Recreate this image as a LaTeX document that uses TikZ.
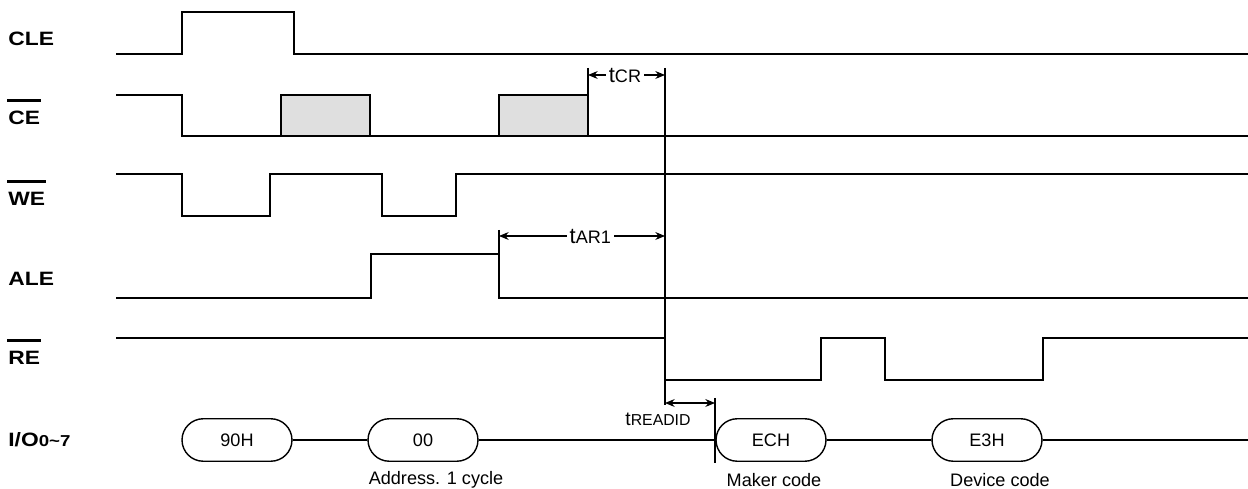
\documentclass[tikz,border=0pt]{standalone}
\usepackage{fontspec}
\setmainfont{Liberation Sans}
\newfontfamily\sigfont[FakeStretch=1.18]{Liberation Sans}
\usetikzlibrary{shapes.misc,positioning,arrows.meta}
\newlength\barwd
\newcommand\barred[1]{\settowidth\barwd{#1}\rlap{\hspace*{-0.5pt}\rule[13pt]{\dimexpr\barwd+1pt\relax}{1.6pt}}#1}
\newcommand\tsub[1]{{\fontsize{12.5}{14}\selectfont t}{\fontsize{10.3}{12}\selectfont #1}}
\tikzset{sig/.style={anchor=base west,inner sep=0pt,font=\sigfont\bfseries\fontsize{11}{13}\selectfont},
wave/.style={line width=1.1pt},
tline/.style={line width=0.6pt},
hold/.style={draw,fill=gray!25,line width=1.1pt},
bus/.style={rounded rectangle,draw,line width=0.8pt,minimum width=2.2cm,minimum height=0.85cm,inner sep=0pt,font=\fontsize{10.3}{12}\selectfont},
note/.style={inner sep=0pt,font=\fontsize{10.3}{12}\selectfont},
tlabel/.style={fill=white,inner sep=1.5pt}}

\begin{document}
\begin{tikzpicture}[>={Stealth[length=5.5pt,width=4.5pt]},x=0.02cm,y=-0.02cm]
        \useasboundingbox (0,0) rectangle (1248,489);

        % signal names
        \node[sig] (cle) at (8,46) {CLE};
        \node[sig] (ce) at (8,125) {\barred{CE}};
        \node[sig] (we) at (8,206) {\barred{WE}};
        \node[sig] (ale) at (8,286) {ALE};
        \node[sig] (re) at (8,365) {\barred{RE}};
        \node[sig] (io) at (8,447) {I/O{\fontsize{9}{10}\selectfont 0\textasciitilde 7}};

        % waveforms
        \draw[wave] (116,54) -- (182,54) -- (182,12) -- (294,12) -- (294,54) -- (1248,54);
        \draw[wave] (116,95) -- (182,95) -- (182,136) -- (1248,136);
        \draw[hold] (281,136) rectangle (370,95);
        \draw[hold] (499,136) rectangle (588,95);
        \draw[wave] (116,174) -- (182,174) -- (182,216) -- (270,216) -- (270,174) -- (382,174)
                -- (382,216) -- (456,216) -- (456,174) -- (1248,174);
        \draw[wave] (116,298) -- (371,298) -- (371,254) -- (499,254) -- (499,298) -- (1248,298);
        \draw[wave] (116,338) -- (665,338) -- (665,380) -- (821,380) -- (821,338) -- (885,338)
                -- (885,380) -- (1043,380) -- (1043,338) -- (1248,338);

        % data bus
        \node[bus] (b90) at (237,440) {90H};
        \node[bus] (b00) at (423,440) {00};
        \node[bus] (bec) at (771,440) {ECH};
        \node[bus] (be3) at (987,440) {E3H};
        \coordinate (bend) at (1248,440);
        \draw[wave] (b90) -- (b00);
        \draw[wave] (b00) -- (bec);
        \draw[wave] (bec) -- (be3);
        \draw[wave] (be3) -- (bend);
        \node[note] (caddr) at (436,480) {Address. 1 cycle};
        \node[note] (cmak) at (774,480) {Maker code};
        \node[note] (cdev) at (1000,480) {Device code};

        % timing marks
        \coordinate (mtop) at (665,68);
        \coordinate (mbot) at (665,405);
        \draw[tline] (mtop) -- (mbot);
        \coordinate (crl) at (588,75);
        \coordinate (crr) at (665,75);
        \draw[tline] (588,68) -- (588,95);
        \draw[tline,<->] (crl) -- node[tlabel,pos=0.48]{\tsub{CR}} (crr);
        \coordinate (arl) at (499,236);
        \coordinate (arr) at (665,236);
        \draw[tline] (499,230) -- (499,254);
        \draw[tline,<->] (arl) -- node[tlabel,pos=0.55]{\tsub{AR1}} (arr);
        \coordinate (rdl) at (665,403);
        \coordinate (rdr) at (715,403);
        \draw[tline] (715,398) -- (715,463);
        \draw[tline,<->] (rdl) -- (rdr);
        \node[note] (tread) at (658,419) {{\fontsize{11}{12}\selectfont t}{\fontsize{9}{10}\selectfont READID}};
\end{tikzpicture}
\end{document}
